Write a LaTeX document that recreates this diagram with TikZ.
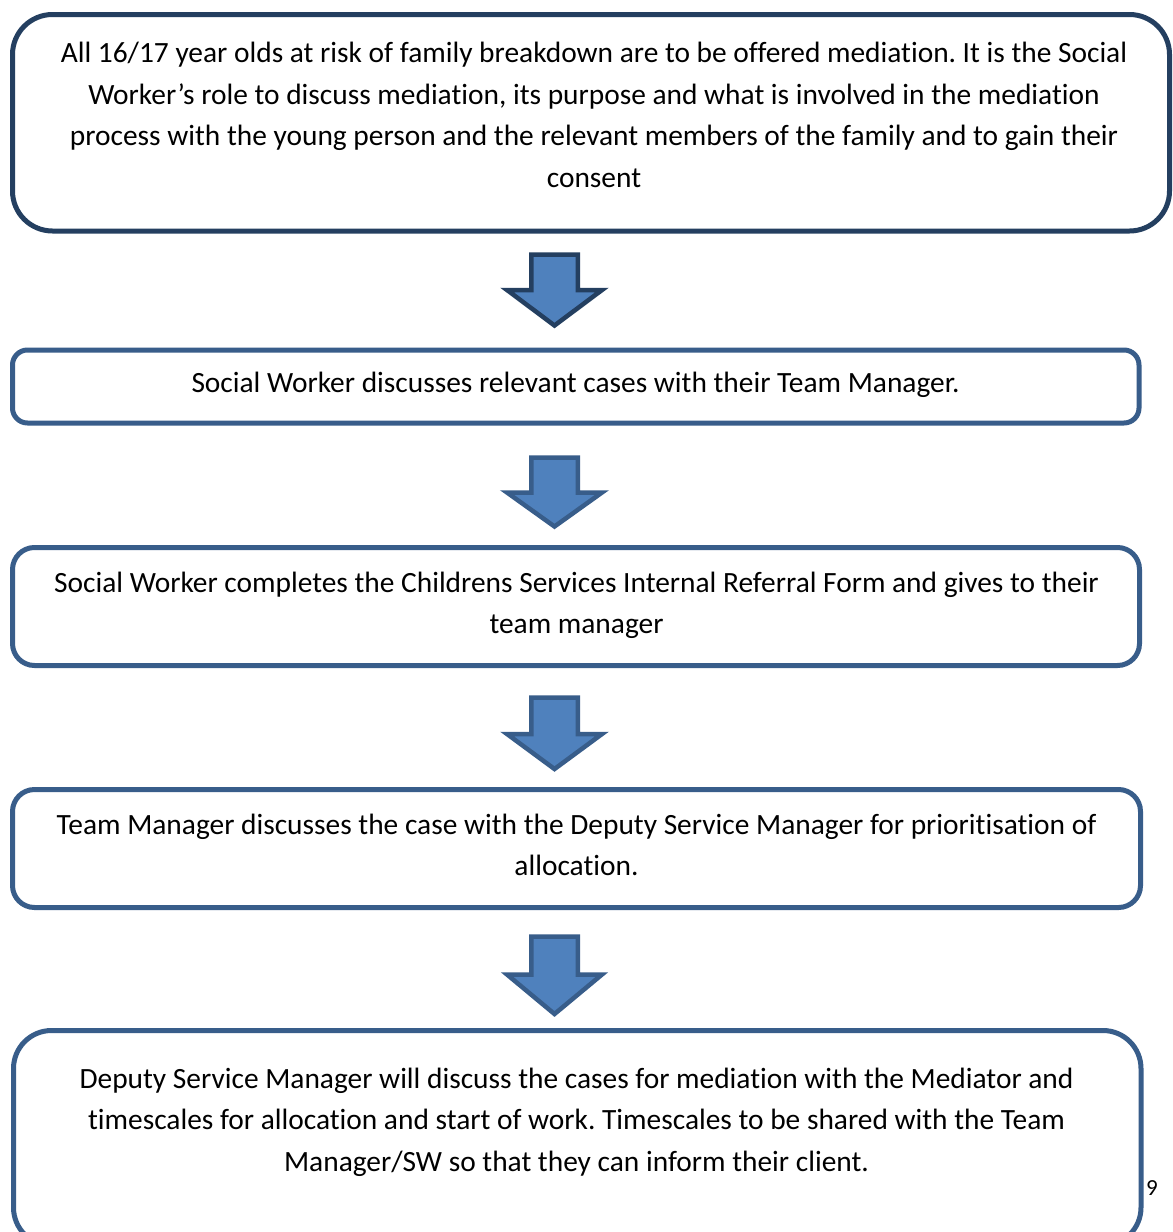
\documentclass[tikz,border=0pt]{standalone}
\usepackage{fontspec}
\setmainfont{Carlito}[Ligatures={NoCommon}]
\frenchspacing
\definecolor{darkblue}{HTML}{243F60}
\definecolor{midblue}{HTML}{385D8A}
\definecolor{fillblue}{HTML}{4F81BD}
\tikzset{
  box/.style={draw=midblue, line width=5pt, rounded corners=#1, inner sep=0pt, fill=white},
  box/.default=22pt,
  txt/.style={align=center, inner sep=0pt, text=black, font={\frenchspacing\fontsize{29.4}{41.5}\selectfont}},
  pics/downarrow/.style n args={2}{code={
    \draw[pic actions, fill=fillblue, line width=4.5pt]
      (-23.25,0) -- (23.25,0) -- (23.25,#1) -- (47.5,#1) -- (0,#2) -- (-47.5,#1) -- (-23.25,#1) -- cycle;}}
}
\begin{document}
\begin{tikzpicture}[x=1pt,y=-1pt]
\useasboundingbox (0,0) rectangle (1173,1232);
\clip (0,0) rectangle (1173,1232);
\fill[white] (0,0) rectangle (1173,1232);
% boxes
\node[box=40pt, draw=darkblue, minimum width=1157pt, minimum height=216.5pt] (b1) at (591,122.75) {};
\node[box=15pt, minimum width=1126.5pt, minimum height=73pt] (b2) at (575.75,386.5) {};
\node[box=22pt, minimum width=1127pt, minimum height=118pt] (b3) at (576,606.5) {};
\node[box=22pt, minimum width=1128pt, minimum height=118pt] (b4) at (576.5,848.5) {};
\node[box=38pt, minimum width=1127.5pt, minimum height=215pt] (b5) at (577.25,1138) {};
% texts
\node[txt] (t1) at (594,115) {All 16/17 year olds at risk of family breakdown are to be offered mediation. It is the Social\\
Worker’s role to discuss mediation, its purpose and what is involved in the mediation\\
process with the young person and the relevant members of the family and to gain their\\
consent};
\node[txt] (t2) at (575.5,385.3) {Social Worker discusses relevant cases with their Team Manager.};
\node[txt] (t3) at (576.5,605.3) {Social Worker completes the Childrens Services Internal Referral Form and gives to their\\
team manager};
\node[txt] (t4) at (576.5,845) {Team Manager discusses the case with the Deputy Service Manager for prioritisation of\\
allocation.};
\node[txt] (t5) at (576.5,1122.3) {Deputy Service Manager will discuss the cases for mediation with the Mediator and\\
timescales for allocation and start of work. Timescales to be shared with the Team\\
Manager/SW so that they can inform their client.};
% block arrows
\pic[draw=darkblue] (a1) at (554.5,254.5) {downarrow={35.5}{71}};
\pic[draw=midblue] (a2) at (554.5,457.5) {downarrow={35}{69}};
\pic[draw=midblue] (a3) at (554.5,697.5) {downarrow={36.5}{71.5}};
\pic[draw=midblue] (a4) at (554.5,936.5) {downarrow={38}{77.5}};
% page number
\node[inner sep=0pt, font={\fontsize{23}{27}\selectfont}] (pg) at (1152,1188) {9};
\end{tikzpicture}
\end{document}
